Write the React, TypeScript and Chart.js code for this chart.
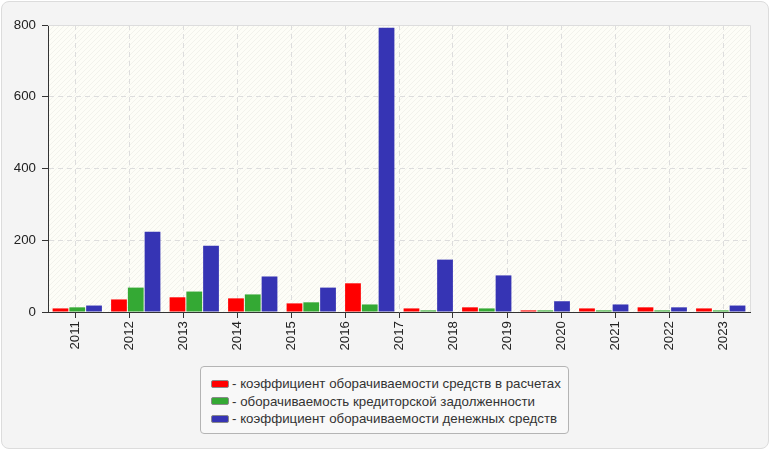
import { useEffect, useRef } from "react";
import { Chart, registerables, type Plugin } from "chart.js";

Chart.register(...registerables);

// labels under the x axis
const yearLabels = ["2011", "2012", "2013", "2014", "2015", "2016", "2017", "2018", "2019", "2020", "2021", "2022", "2023"];
// bar groups (one fewer than the year labels)
const periods = ["2011-2012", "2012-2013", "2013-2014", "2014-2015", "2015-2016", "2016-2017", "2017-2018", "2018-2019", "2019-2020", "2020-2021", "2021-2022", "2022-2023"];

const receivablesTurnover = [10, 35, 41, 38, 24, 80, 10, 13, 4.5, 10, 13, 10];
const payablesTurnover = [13, 68, 57, 49, 27, 21, 4.5, 10, 4.5, 4.5, 4.5, 4.5];
const cashTurnover = [18, 224, 185, 99, 68, 792, 146, 102, 30, 21, 13, 18];

const seriesNames = [
  "коэффициент оборачиваемости средств в расчетах",
  "оборачиваемость кредиторской задолженности",
  "коэффициент оборачиваемости денежных средств",
];
const seriesColors = ["#ff0000", "#34a934", "#3634b4"];

const yTicks = [0, 200, 400, 600, 800];

const FONT = '"Liberation Sans", Arial, sans-serif';

const plotBackground: Plugin<"bar"> = {
  id: "plotBackground",
  beforeDraw(chart) {
    const { ctx, chartArea: a } = chart;
    ctx.save();
    ctx.fillStyle = "#fdfdf7";
    ctx.fillRect(a.left, a.top, a.right - a.left, a.bottom - a.top);
    const tile = document.createElement("canvas");
    tile.width = 5;
    tile.height = 5;
    const t = tile.getContext("2d")!;
    t.strokeStyle = "rgba(0,0,0,0.045)";
    t.lineWidth = 1;
    t.beginPath();
    t.moveTo(-1, 6);
    t.lineTo(6, -1);
    t.stroke();
    const pattern = ctx.createPattern(tile, "repeat");
    if (pattern) {
      ctx.fillStyle = pattern;
      ctx.fillRect(a.left, a.top, a.right - a.left, a.bottom - a.top);
    }
    ctx.restore();
  },
  afterDatasetsDraw(chart) {
    const { ctx, chartArea: a } = chart;
    ctx.save();
    ctx.strokeStyle = "#dddddd";
    ctx.lineWidth = 1;
    ctx.beginPath();
    ctx.moveTo(a.left, Math.round(a.top) + 0.5);
    ctx.lineTo(Math.round(a.right) + 0.5, Math.round(a.top) + 0.5);
    ctx.lineTo(Math.round(a.right) + 0.5, a.bottom);
    ctx.stroke();
    ctx.restore();
  },
};

export default function App() {
  const canvasRef = useRef<HTMLCanvasElement>(null);

  useEffect(() => {
    document.body.style.margin = "0";
    if (!canvasRef.current) return;
    const values = [receivablesTurnover, payablesTurnover, cashTurnover];

    const chart = new Chart(canvasRef.current, {
      type: "bar",
      data: {
        labels: periods,
        datasets: values.map((v, i) => ({
          label: seriesNames[i],
          data: v,
          backgroundColor: seriesColors[i],
          borderWidth: 0,
          xAxisID: "xBars",
          categoryPercentage: 0.86,
          barPercentage: 0.94,
        })),
      },
      options: {
        animation: false,
        responsive: false,
        maintainAspectRatio: false,
        layout: { padding: { left: 0, right: 20, top: 25, bottom: 93 } },
        plugins: {
          legend: { display: false },
          tooltip: { enabled: false },
        },
        scales: {
          xBars: {
            type: "category",
            position: "bottom",
            display: false,
            offset: true,
          },
          x: {
            type: "category",
            position: "bottom",
            labels: yearLabels,
            offset: true,
            afterFit: (s) => {
              s.height = 45;
            },
            grid: {
              offset: false,
              color: "#dddddd",
              tickLength: 6,
              tickColor: "#333333",
              tickBorderDash: [],
            },
            border: { color: "#333333", width: 1, dash: [5, 4] },
            ticks: {
              autoSkip: false,
              minRotation: 90,
              maxRotation: 90,
              padding: 3,
              color: "#222222",
              font: { family: FONT, size: 13.3 },
            },
          },
          y: {
            min: 0,
            max: 800,
            afterFit: (s) => {
              s.width = 48;
            },
            afterBuildTicks: (s) => {
              s.ticks = yTicks.map((value) => ({ value }));
            },
            grid: {
              color: (c) => (c.tick && c.tick.value === 800 ? "rgba(0,0,0,0)" : "#dddddd"),
              tickLength: 6,
              tickColor: "#333333",
              tickBorderDash: [],
            },
            border: { color: "#333333", width: 1, dash: [5, 4] },
            ticks: {
              padding: 6,
              color: "#222222",
              font: { family: FONT, size: 13.3 },
            },
          },
        },
      },
      plugins: [plotBackground],
    });

    return () => chart.destroy();
  }, []);

  return (
    <div style={{ position: "relative", width: 770, height: 450, fontFamily: FONT }}>
      <div
        style={{
          position: "absolute",
          left: 1,
          top: 1,
          width: 768,
          height: 448,
          boxSizing: "border-box",
          border: "1px solid #dcdcdc",
          borderRadius: 8,
          background: "#f4f4f4",
        }}
      />
      <canvas ref={canvasRef} width={770} height={450} style={{ position: "absolute", left: 0, top: 0 }} />
      <div
        style={{
          position: "absolute",
          left: 200,
          top: 366,
          width: 369,
          height: 68,
          boxSizing: "border-box",
          border: "1px solid #b4b4b4",
          borderRadius: 4,
          background: "#f8f8f8",
          paddingTop: 8,
          paddingLeft: 10,
          fontSize: 13.3,
          color: "#333333",
        }}
      >
        {seriesNames.map((name, i) => (
          <div key={name} style={{ display: "flex", alignItems: "center", height: 17.5, whiteSpace: "nowrap" }}>
            <span
              style={{
                display: "inline-block",
                width: 18,
                height: 8,
                boxSizing: "border-box",
                border: "1px solid #8a8a8a",
                borderRadius: 2,
                background: seriesColors[i],
                marginRight: 3,
              }}
            />
            <span>- {name}</span>
          </div>
        ))}
      </div>
    </div>
  );
}
